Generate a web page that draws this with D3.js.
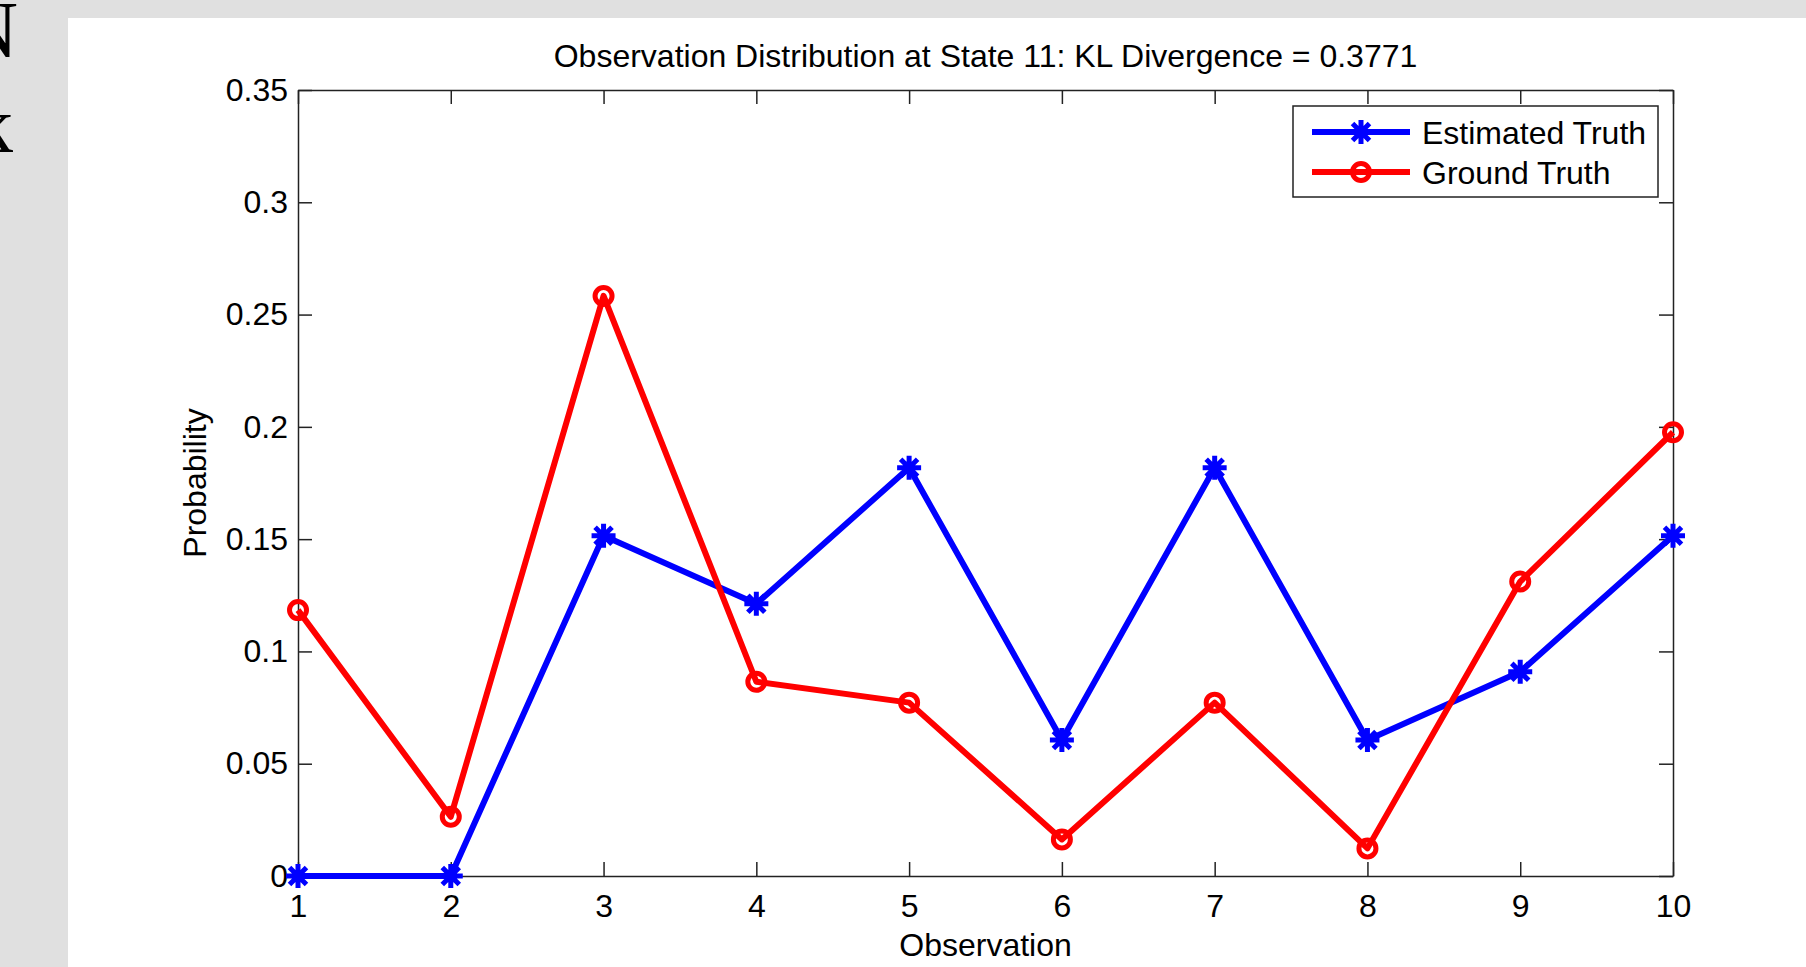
<!DOCTYPE html>
<html>
<head>
<meta charset="utf-8">
<script src="https://cdn.jsdelivr.net/npm/d3@7"></script>
<style>
    body { margin: 0; background: #e0e0e0; overflow: hidden; }
    text { font-family: Arial, "Liberation Sans", sans-serif; fill: #000; }
    .axis path, .axis line { stroke: #222; stroke-width: 1.5; }
    .axis text { font-size: 32px; }
</style>
</head>
<body>
<div id="chart"></div>
<script>
// values
const observations = [1, 2, 3, 4, 5, 6, 7, 8, 9, 10];
const estimatedTruth = [0, 0, 0.1515, 0.1212, 0.1818, 0.0606, 0.1818, 0.0606, 0.0909, 0.1515];
const groundTruth = [0.1184, 0.0264, 0.2583, 0.0865, 0.0772, 0.0163, 0.0772, 0.0123, 0.1311, 0.1976];
const yTicks = [0, 0.05, 0.1, 0.15, 0.2, 0.25, 0.3, 0.35];
const seriesNames = ["Estimated Truth", "Ground Truth"];

const width = 1806;
const height = 967;
const plot = { left: 298, right: 1673, top: 90, bottom: 876 };

const svg = d3.select("#chart")
    .append("svg")
    .attr("width", width)
    .attr("height", height);

// white figure panel on the grey page
svg.append("rect")
    .attr("x", 68)
    .attr("y", 18)
    .attr("width", width - 68)
    .attr("height", height - 18)
    .attr("fill", "#fff");

// serif letters cut off at the left edge, as in the original
svg.append("text")
    .attr("x", 18).attr("y", 57)
    .attr("text-anchor", "end")
    .style("font-family", "'Liberation Serif', 'Times New Roman', serif")
    .style("font-size", "80px")
    .text("N");
svg.append("text")
    .attr("x", 13).attr("y", 152)
    .attr("text-anchor", "end")
    .style("font-family", "'Liberation Serif', 'Times New Roman', serif")
    .style("font-size", "80px")
    .text("k");

const xScale = d3.scaleLinear()
    .domain([1, 10])
    .range([plot.left, plot.right]);

const yScale = d3.scaleLinear()
    .domain([0, 0.35])
    .range([plot.bottom, plot.top]);

const fmtY = d => d === 0 ? "0" : String(+d.toFixed(2));

// axes, ticks pointing inward on all four sides
svg.append("g")
    .attr("class", "axis")
    .attr("transform", `translate(0, ${plot.bottom})`)
    .call(d3.axisBottom(xScale).tickValues(observations).tickSizeInner(-14).tickSizeOuter(0).tickPadding(18));

svg.append("g")
    .attr("class", "axis")
    .attr("transform", `translate(0, ${plot.top})`)
    .call(d3.axisTop(xScale).tickValues(observations).tickSizeInner(-14).tickSizeOuter(0).tickFormat(""));

svg.append("g")
    .attr("class", "axis")
    .attr("transform", `translate(${plot.left}, 0)`)
    .call(d3.axisLeft(yScale).tickValues(yTicks).tickSizeInner(-14).tickSizeOuter(0).tickPadding(10).tickFormat(fmtY));

svg.append("g")
    .attr("class", "axis")
    .attr("transform", `translate(${plot.right}, 0)`)
    .call(d3.axisRight(yScale).tickValues(yTicks).tickSizeInner(-14).tickSizeOuter(0).tickFormat(""));

svg.selectAll(".axis .domain").attr("fill", "none");

// labels
svg.append("text")
    .attr("x", (plot.left + plot.right) / 2)
    .attr("y", 67)
    .attr("text-anchor", "middle")
    .style("font-size", "32px")
    .text("Observation Distribution at State 11: KL Divergence = 0.3771");

svg.append("text")
    .attr("x", (plot.left + plot.right) / 2)
    .attr("y", 956)
    .attr("text-anchor", "middle")
    .style("font-size", "32px")
    .text("Observation");

svg.append("text")
    .attr("transform", `translate(206, ${(plot.top + plot.bottom) / 2}) rotate(-90)`)
    .attr("text-anchor", "middle")
    .style("font-size", "32px")
    .text("Probability");

// markers
const starPath = r => {
    const d = r * Math.SQRT1_2;
    return `M${-r},0L${r},0M0,${-r}L0,${r}M${-d},${-d}L${d},${d}M${-d},${d}L${d},${-d}`;
};

const drawStar = (g, x, y) => g.append("path")
    .attr("d", starPath(12))
    .attr("transform", `translate(${x}, ${y})`)
    .attr("stroke", "#0000ff")
    .attr("stroke-width", 5)
    .attr("fill", "none");

const drawCircle = (g, x, y) => g.append("circle")
    .attr("cx", x)
    .attr("cy", y)
    .attr("r", 8.5)
    .attr("stroke", "#ff0000")
    .attr("stroke-width", 5)
    .attr("fill", "none");

const series = [
    { name: seriesNames[0], values: estimatedTruth, color: "#0000ff", marker: drawStar },
    { name: seriesNames[1], values: groundTruth, color: "#ff0000", marker: drawCircle }
];

const lineGenerator = d3.line()
    .x((d, i) => xScale(observations[i]))
    .y(d => yScale(d));

const plotG = svg.append("g");

series.forEach(s => {
    plotG.append("path")
        .attr("d", lineGenerator(s.values))
        .attr("stroke", s.color)
        .attr("stroke-width", 6)
        .attr("stroke-linejoin", "round")
        .attr("fill", "none");
    s.values.forEach((v, i) => s.marker(plotG, xScale(observations[i]), yScale(v)));
});

// legend
const legend = svg.append("g");

legend.append("rect")
    .attr("x", 1293)
    .attr("y", 106)
    .attr("width", 365)
    .attr("height", 91)
    .attr("fill", "#fff")
    .attr("stroke", "#222")
    .attr("stroke-width", 1.5);

series.forEach((s, i) => {
    const y = 132 + i * 40;
    legend.append("line")
        .attr("x1", 1312).attr("x2", 1410)
        .attr("y1", y).attr("y2", y)
        .attr("stroke", s.color)
        .attr("stroke-width", 6);
    s.marker(legend, 1361, y);
    legend.append("text")
        .attr("x", 1422)
        .attr("y", y)
        .attr("dy", "0.36em")
        .style("font-size", "32px")
        .text(s.name);
});
</script>
</body>
</html>
